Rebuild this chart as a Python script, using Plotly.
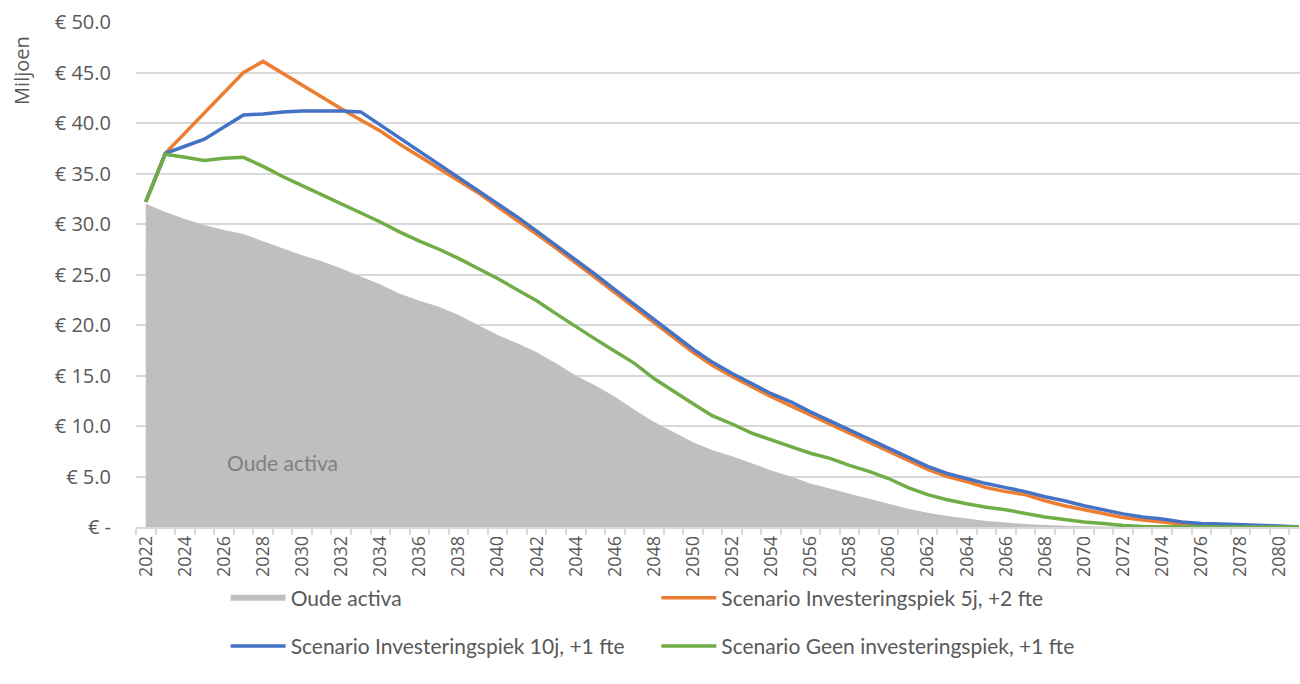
import plotly.graph_objects as go

years = list(range(2022, 2082))

oude_activa = [32.0, 31.2, 30.5, 29.9, 29.4, 29.0, 28.3, 27.6, 26.9, 26.3,
               25.6, 24.8, 24.0, 23.1, 22.4, 21.8, 21.0, 20.0, 19.0, 18.2,
               17.3, 16.2, 15.0, 14.0, 12.9, 11.6, 10.4, 9.4, 8.4, 7.6,
               7.0, 6.3, 5.6, 5.0, 4.3, 3.8, 3.3, 2.8, 2.3, 1.8,
               1.4, 1.1, 0.85, 0.6, 0.45, 0.3, 0.2, 0.12, 0.07, 0.04,
               0.02, 0.0, 0.0, 0.0, 0.0, 0.0, 0.0, 0.0, 0.0, 0.0]

piek_5j = [32.2, 37.0, 39.0, 41.0, 43.0, 45.0, 46.1, 44.9, 43.7, 42.5,
           41.4, 40.3, 39.2, 37.9, 36.7, 35.6, 34.4, 33.1, 31.7, 30.4,
           29.0, 27.6, 26.2, 24.7, 23.2, 21.7, 20.2, 18.7, 17.3, 16.0,
           14.9, 13.9, 12.9, 12.0, 11.1, 10.2, 9.3, 8.4, 7.5, 6.6,
           5.7, 5.0, 4.5, 3.9, 3.5, 3.2, 2.6, 2.1, 1.7, 1.3,
           0.95, 0.7, 0.5, 0.3, 0.2, 0.15, 0.1, 0.05, 0.02, 0.0]

piek_10j = [32.2, 37.0, 37.7, 38.4, 39.6, 40.8, 40.9, 41.1, 41.2, 41.2,
            41.2, 41.1, 39.8, 38.5, 37.2, 36.0, 34.7, 33.4, 32.0, 30.7,
            29.3, 27.9, 26.5, 25.0, 23.5, 22.0, 20.5, 19.0, 17.6, 16.3,
            15.2, 14.2, 13.2, 12.4, 11.4, 10.5, 9.6, 8.7, 7.8, 6.9,
            6.0, 5.3, 4.8, 4.3, 3.9, 3.5, 3.0, 2.6, 2.1, 1.7,
            1.3, 1.0, 0.8, 0.5, 0.35, 0.3, 0.25, 0.2, 0.1, 0.0]

geen_piek = [32.2, 36.9, 36.6, 36.3, 36.5, 36.6, 35.7, 34.7, 33.8, 32.9,
             32.0, 31.1, 30.2, 29.2, 28.3, 27.5, 26.6, 25.6, 24.6, 23.5,
             22.4, 21.1, 19.8, 18.6, 17.4, 16.2, 14.7, 13.4, 12.2, 11.0,
             10.2, 9.3, 8.6, 7.95, 7.3, 6.8, 6.1, 5.5, 4.8, 3.9,
             3.2, 2.7, 2.3, 1.95, 1.7, 1.35, 1.0, 0.75, 0.5, 0.35,
             0.15, 0.05, 0.02, 0.0, 0.0, 0.0, 0.0, 0.0, 0.0, 0.0]

series_names = ["Oude activa",
                "Scenario Investeringspiek 5j, +2 fte",
                "Scenario Investeringspiek 10j, +1 fte",
                "Scenario Geen investeringspiek, +1 fte"]

y_tick_values = [0, 5, 10, 15, 20, 25, 30, 35, 40, 45, 50]
y_tick_labels = ["€ -", "€ 5.0", "€ 10.0", "€ 15.0", "€ 20.0", "€ 25.0",
                 "€ 30.0", "€ 35.0", "€ 40.0", "€ 45.0", "€ 50.0"]

x_tick_labels = [str(y) if y % 2 == 0 else "" for y in years]

TEXT = "#595959"
GRID = "#D9D9D9"
FONT = "Lato, 'Open Sans', sans-serif"
TICKFONT = "'Open Sans', sans-serif"

fig = go.Figure()

fig.add_trace(go.Scatter(
    x=years, y=oude_activa, name=series_names[0], mode="none",
    fill="tozeroy", fillcolor="#BFBFBF", legend="legend", legendgroup="a",
    hoverinfo="x+y"))
fig.add_trace(go.Scatter(
    x=years, y=piek_5j, name=series_names[1], mode="lines",
    line=dict(color="#ED7D31", width=3.5), legend="legend2", legendgroup="b"))
fig.add_trace(go.Scatter(
    x=years, y=piek_10j, name=series_names[2], mode="lines",
    line=dict(color="#4472C4", width=3.5), legend="legend", legendgroup="c"))
fig.add_trace(go.Scatter(
    x=years, y=geen_piek, name=series_names[3], mode="lines",
    line=dict(color="#70AD47", width=3.5), legend="legend2", legendgroup="d"))

fig.add_annotation(x=2029, y=6.4, xref="x", yref="y", text="Oude activa",
                   showarrow=False, font=dict(family=FONT, size=21, color="#808080"))

fig.add_annotation(x=-0.098, y=0.905, xref="paper", yref="paper", text="Miljoen",
                   textangle=-90, showarrow=False, xanchor="center", yanchor="middle",
                   font=dict(family=TICKFONT, size=20, color=TEXT))

legend_style = dict(orientation="v", yanchor="top", xanchor="left",
                    font=dict(family=FONT, size=21, color=TEXT),
                    itemwidth=55, tracegroupgap=18, traceorder="grouped",
                    bgcolor="rgba(0,0,0,0)")

fig.update_layout(
    width=1300, height=684,
    margin=dict(l=136, r=0, t=22, b=157, autoexpand=False),
    paper_bgcolor="white", plot_bgcolor="white",
    font=dict(family=FONT, size=18, color=TEXT),
    showlegend=True,
    legend=dict(x=0.077, y=-0.1, **legend_style),
    legend2=dict(x=0.447, y=-0.1, **legend_style),
    xaxis=dict(
        range=[2021.5, 2081.05], tickvals=years, ticktext=x_tick_labels,
        tickangle=-90, ticks="", showgrid=False, zeroline=False,
        showline=True, linecolor=GRID, linewidth=1.5,
        tickfont=dict(family=TICKFONT, size=18, color=TEXT),
        minor=dict(tickvals=[y - 0.5 for y in years], ticks="outside",
                   ticklen=6, tickwidth=1.5, tickcolor=GRID, showgrid=False),
    ),
    yaxis=dict(
        range=[0, 50], tickvals=y_tick_values, ticktext=y_tick_labels,
        showgrid=True, gridcolor=GRID, gridwidth=1.5, zeroline=False,
        showline=False, ticks="", ticklabelstandoff=24,
        tickfont=dict(family=TICKFONT, size=20, color=TEXT),
    ),
)

fig.write_html("out.html", config={"displayModeBar": False},
               post_script="document.body.style.margin='0';document.body.style.overflow='hidden';")
